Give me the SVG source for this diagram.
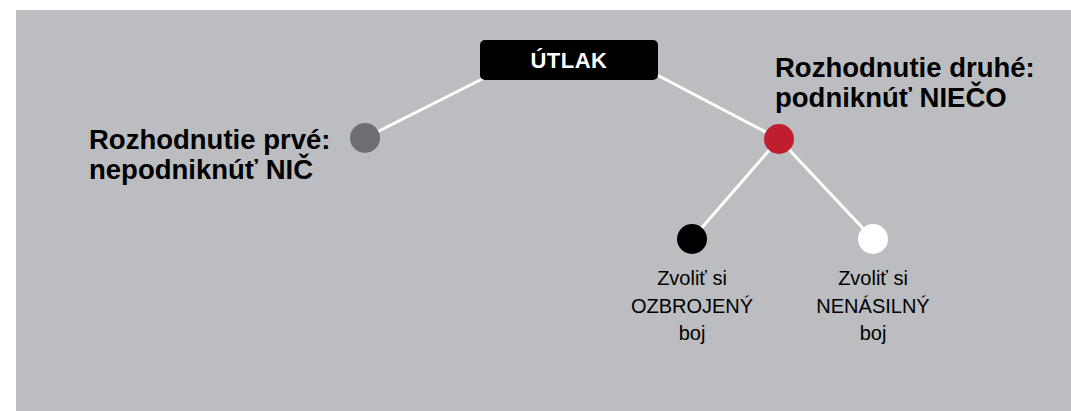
<svg xmlns="http://www.w3.org/2000/svg" width="1071" height="411" viewBox="0 0 1071 411">
<style>
.bg{fill:#bcbdc0}
.ln{stroke:#ffffff;stroke-width:3;fill:none}
.big{font-family:"Liberation Sans",Arial,sans-serif;font-weight:bold;font-size:27.5px;fill:#000}
.sm{font-family:"Liberation Sans",Arial,sans-serif;font-size:20px;fill:#000;text-anchor:middle}
.ttl{font-family:"Liberation Sans",Arial,sans-serif;font-weight:bold;font-size:22px;fill:#fff;text-anchor:middle;letter-spacing:0.5px}
</style>
<rect class="bg" x="16" y="10" width="1055" height="401"/>
<g id="connectors">
<line class="ln" x1="365" y1="138" x2="500" y2="70"/>
<line class="ln" x1="640" y1="66" x2="779" y2="139"/>
<line class="ln" x1="779" y1="139" x2="692" y2="239"/>
<line class="ln" x1="779" y1="139" x2="873" y2="239"/>
</g>
<g id="utlak">
<rect x="480" y="40" width="178" height="40" rx="5" fill="#000"/>
<text class="ttl" x="569" y="68">ÚTLAK</text>
</g>
<g id="prve">
<circle cx="365" cy="138" r="15" fill="#6d6e71"/>
<text class="big" x="89" y="149">Rozhodnutie prvé:</text>
<text class="big" x="89" y="179">nepodniknúť NIČ</text>
</g>
<g id="druhe">
<circle cx="779" cy="139" r="15" fill="#be1e2d"/>
<text class="big" x="775" y="77">Rozhodnutie druhé:</text>
<text class="big" x="775" y="107">podniknúť NIEČO</text>
</g>
<g id="ozbrojeny">
<circle cx="692" cy="239" r="15" fill="#000"/>
<text class="sm" x="692" y="285">Zvoliť si</text>
<text class="sm" x="692" y="313">OZBROJENÝ</text>
<text class="sm" x="692" y="340">boj</text>
</g>
<g id="nenasilny">
<circle cx="873" cy="239" r="15" fill="#fff"/>
<text class="sm" x="873" y="285">Zvoliť si</text>
<text class="sm" x="873" y="313">NENÁSILNÝ</text>
<text class="sm" x="873" y="340">boj</text>
</g>
</svg>
